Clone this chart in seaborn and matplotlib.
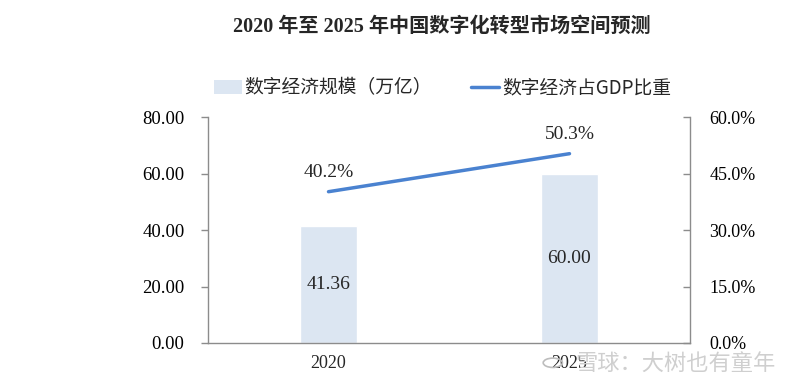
import matplotlib
matplotlib.use("Agg")
import matplotlib.pyplot as plt
import seaborn as sns
import pandas as pd
from matplotlib.ticker import FuncFormatter, FixedLocator
from matplotlib.patches import Patch, Circle
from matplotlib.lines import Line2D

years = ["2020", "2025"]
scale = [41.36, 60.00]          # 数字经济规模（万亿）
share = [0.402, 0.503]          # 数字经济占GDP比重
left_ticks = [0, 20, 40, 60, 80]
right_ticks = [0, 0.15, 0.30, 0.45, 0.60]

sns.set_style("white")
fam = ["Liberation Serif", "Noto Sans CJK SC"]
plt.rcParams["font.family"] = fam

bar_color = "#dce6f2"
line_color = "#4a82d0"
gray = "#8c8c8c"

df = pd.DataFrame({"year": years, "scale": scale, "share": share})

fig = plt.figure(figsize=(8, 3.88), dpi=100)
ax = fig.add_axes([0.26, 0.116, 0.6025, 0.582])
sns.barplot(data=df, x="year", y="scale", color=bar_color, width=0.24,
            saturation=1, ax=ax)
ax.set_xlim(-0.5, 1.5)
ax.set_ylim(0, 80)
ax.yaxis.set_major_locator(FixedLocator(left_ticks))
ax.yaxis.set_major_formatter(FuncFormatter(lambda v, p: f"{v:.2f}"))
ax.set_xlabel("")
ax.set_ylabel("")
ax.set_xticks([0.5], minor=False)
ax.set_xticklabels([""])
for i, y in enumerate(years):
    ax.text(i, -7.2, y, ha="center", va="center", fontsize=13, family=fam)
for i, v in enumerate(scale):
    ax.text(i, v / 2, f"{v:.2f}", ha="center", va="center", fontsize=14,
            family=fam)

ax2 = ax.twinx()
sns.lineplot(x=[0, 1], y=share, color=line_color, linewidth=2.5, ax=ax2)
ax2.set_ylim(0, 0.60)
ax2.yaxis.set_major_locator(FixedLocator(right_ticks))
ax2.yaxis.set_major_formatter(FuncFormatter(lambda v, p: f"{v * 100:.1f}%"))
for i, v in enumerate(share):
    ax2.text(i, v + 0.05, f"{v * 100:.1f}%", ha="center", va="center",
             fontsize=14, family=fam)

for a in (ax, ax2):
    for s in a.spines.values():
        s.set_visible(False)
    a.tick_params(colors="black", length=5, width=1, color=gray)
ax.spines["left"].set_visible(True)
ax.spines["bottom"].set_visible(True)
ax2.spines["right"].set_visible(True)
for s in (ax.spines["left"], ax.spines["bottom"], ax2.spines["right"]):
    s.set_color(gray)
    s.set_linewidth(1)
ax.tick_params(axis="y", direction="out", pad=12, labelsize=13.5)
ax.tick_params(axis="x", direction="out", length=4)
ax2.tick_params(axis="y", direction="in", pad=14, labelsize=13)

handles = [Patch(facecolor=bar_color, edgecolor="none"),
           Line2D([0], [0], color=line_color, linewidth=2.5)]
fig.legend(handles, ["数字经济规模（万亿）", "数字经济占GDP比重"], loc="center",
           bbox_to_anchor=(0.553, 0.773), ncol=2, frameon=False,
           handlelength=1.5, handletextpad=0.15, columnspacing=2.1,
           prop={"family": ["Noto Sans CJK SC"], "size": 13.5})

fig.text(0.552, 0.93, "2020 年至 2025 年中国数字化转型市场空间预测", ha="center",
         va="center", fontsize=14.5, fontweight="bold", family=fam)
fig.text(0.844, 0.06, "雪球：大树也有童年", ha="center", va="center",
         fontsize=16, color="#cfcfcf", family=["Noto Sans CJK SC"])
fig.add_artist(Circle((0.691, 0.065), 0.012, transform=fig.transFigure,
                      facecolor="none", edgecolor="#bdbdbd", linewidth=1.2))

fig.savefig("out.png", dpi=100)
